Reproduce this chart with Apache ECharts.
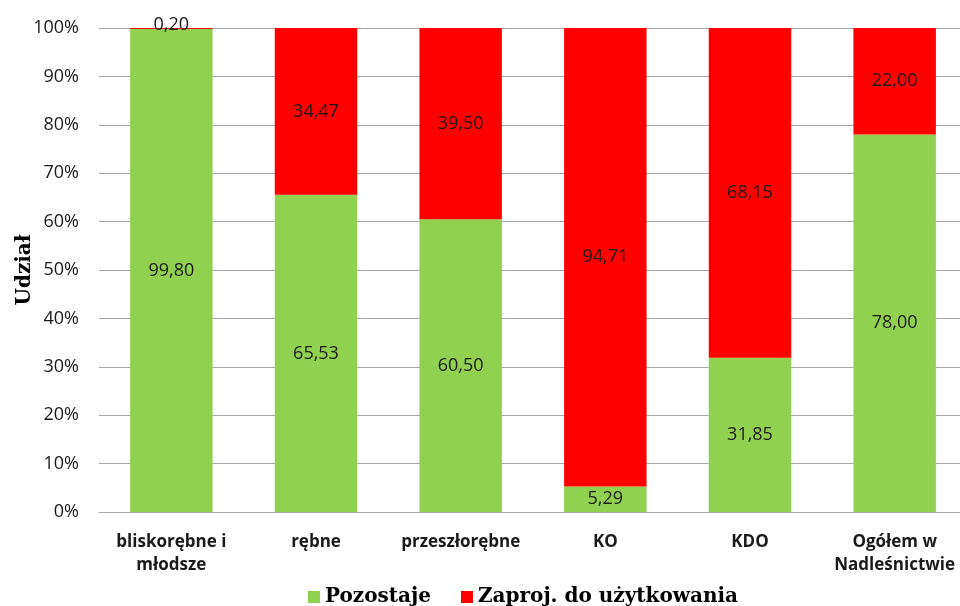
<!DOCTYPE html>
<html>
<head>
<meta charset="utf-8">
<script src="https://cdn.jsdelivr.net/npm/echarts@6/dist/echarts.min.js"></script>
<style>
  html, body { margin: 0; padding: 0; background: #fff; }
  #chart { width: 960px; height: 606px; }
</style>
</head>
<body>
<div id="chart"></div>
<script>
// kategorie drzewostanów
const categories = ['bliskorębne i\nmłodsze', 'rębne', 'przeszłorębne', 'KO', 'KDO', 'Ogółem w\nNadleśnictwie']
// udział w procentach
const pozostaje = [99.80, 65.53, 60.50, 5.29, 31.85, 78.00]
const zaproj = [0.20, 34.47, 39.50, 94.71, 68.15, 22.00]
const yTicks = [0, 10, 20, 30, 40, 50, 60, 70, 80, 90, 100]

const fmt = v => v.toFixed(2).replace('.', ',')

const chart = echarts.init(document.getElementById('chart'))

const labelStyle = {
  show: true,
  position: 'inside',
  color: '#1a1a1a',
  fontSize: 18,
  fontFamily: 'Open Sans, Noto Sans, sans-serif',
  formatter: p => fmt(p.value)
}

const option = {
  animation: false,
  grid: { left: 99, right: -7, top: 28, bottom: 94, containLabel: false, outerBoundsMode: 'none' },
  legend: {
    bottom: -6,
    left: 303,
    itemWidth: 12,
    itemHeight: 12,
    itemGap: 30,
    icon: 'rect',
    textStyle: {
      fontFamily: 'DejaVu Serif, Liberation Serif, serif',
      fontWeight: 'bold',
      fontSize: 20,
      color: '#000'
    },
    data: ['Pozostaje', 'Zaproj. do użytkowania']
  },
  xAxis: {
    type: 'category',
    data: categories,
    axisTick: { show: false },
    axisLine: { lineStyle: { color: '#a6a6a6' } },
    axisLabel: {
      interval: 0,
      margin: 19,
      fontFamily: 'Open Sans, Noto Sans, sans-serif',
      fontWeight: 'bold',
      fontSize: 17,
      color: '#1a1a1a',
      lineHeight: 23
    }
  },
  yAxis: {
    type: 'value',
    min: yTicks[0],
    max: yTicks[yTicks.length - 1],
    interval: 10,
    name: 'Udział',
    nameLocation: 'middle',
    nameGap: 64,
    nameMoveOverlap: false,
    nameTextStyle: {
      fontFamily: 'DejaVu Serif, Liberation Serif, serif',
      fontWeight: 'bold',
      fontSize: 20,
      color: '#000'
    },
    axisLine: { show: false },
    axisTick: { show: false },
    axisLabel: {
      formatter: '{value}%',
      fontFamily: 'Open Sans, Noto Sans, sans-serif',
      fontSize: 18,
      color: '#1a1a1a',
      margin: 20
    },
    splitLine: { lineStyle: { color: '#a6a6a6' } }
  },
  series: [{
    name: 'Pozostaje',
    type: 'bar',
    stack: 'total',
    barWidth: '57%',
    data: pozostaje,
    itemStyle: { color: '#92d050' },
    label: labelStyle
  }, {
    name: 'Zaproj. do użytkowania',
    type: 'bar',
    stack: 'total',
    barWidth: '57%',
    data: zaproj.map((v, i) => i === 0
      ? { value: v, label: { position: 'top', distance: -6 } }
      : v),
    itemStyle: { color: '#ff0000' },
    label: labelStyle
  }]
}

chart.setOption(option)
</script>
</body>
</html>
